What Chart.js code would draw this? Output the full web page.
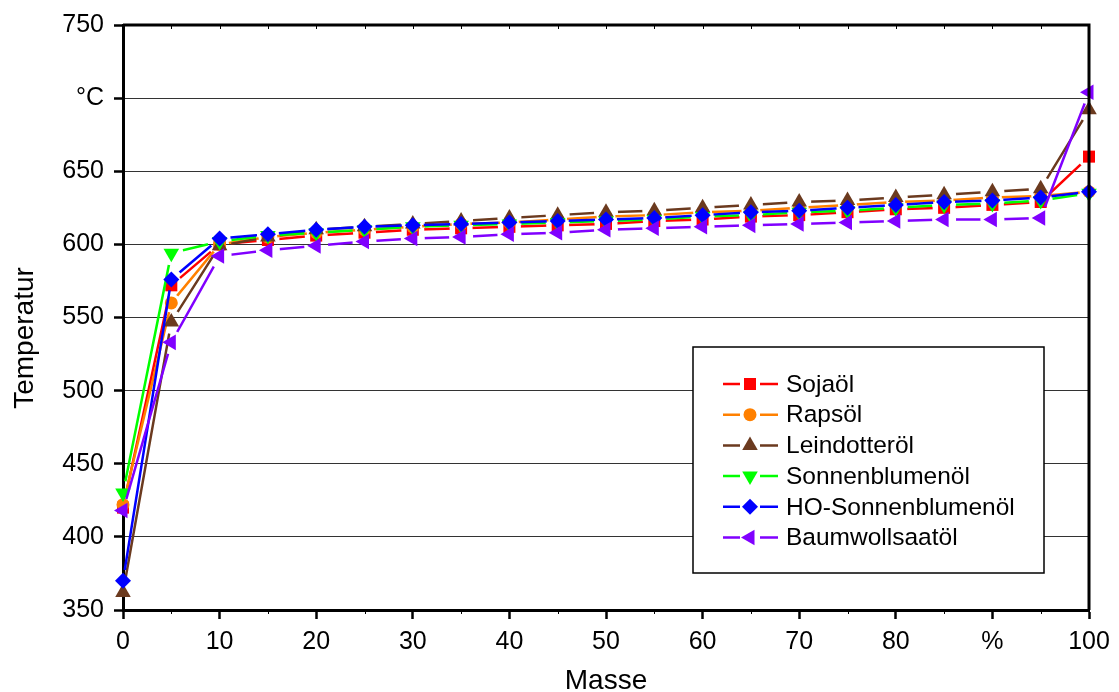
<!DOCTYPE html>
<html>
<head>
<meta charset="utf-8">
<script src="https://cdn.jsdelivr.net/npm/chart.js@4.4.1/dist/chart.umd.min.js"></script>
<style>
  html, body { margin: 0; padding: 0; background: #fff; }
  #wrap { width: 1119px; height: 692px; }
</style>
</head>
<body>
<div id="wrap"><canvas id="chart" width="1119" height="692"></canvas></div>
<script>
// Masse in %
var masse = [0, 5, 10, 15, 20, 25, 30, 35, 40, 45, 50, 55, 60, 65, 70, 75, 80, 85, 90, 95, 100];

// Temperatur in °C
var sojaoel          = [420, 572, 600, 603, 606, 608, 610, 611, 612, 613, 614, 616, 617, 619, 620, 622, 624, 625, 627, 629, 660];
var rapsoel          = [422, 560, 600, 605, 608, 610, 612, 614, 615, 617, 619, 620, 622, 623, 625, 627, 629, 630, 632, 633, 636];
var leindotteroel    = [362, 547, 599, 605, 610, 612, 614, 616, 618, 620, 622, 623, 625, 627, 629, 630, 632, 634, 636, 638, 692];
var sonnenblumenoel  = [430, 594, 602, 606, 608, 610, 612, 613, 614, 615, 616, 617, 619, 620, 622, 623, 625, 627, 628, 630, 635];
var hoSonnenblumen   = [370, 576, 604, 607, 610, 612, 613, 614, 615, 616, 617, 618, 620, 622, 623, 625, 627, 629, 630, 632, 636];
var baumwollsaatoel  = [418, 533, 592, 596, 599, 602, 604, 605, 607, 608, 610, 611, 612, 613, 614, 615, 616, 617, 617, 618, 704];

var xTickLabels = {90: '%'};
var yTickLabels = {700: '°C'};

var series = [
  {label: 'Sojaöl',            data: sojaoel,         color: '#ff0000', style: 'rect',     rot: 0,   r: 8.5},
  {label: 'Rapsöl',            data: rapsoel,         color: '#ff8000', style: 'circle',   rot: 0,   r: 6.5},
  {label: 'Leindotteröl',      data: leindotteroel,   color: '#6b3a1f', style: 'triangle', rot: 0,   r: 9},
  {label: 'Sonnenblumenöl',    data: sonnenblumenoel, color: '#00ff00', style: 'triangle', rot: 180, r: 9},
  {label: 'HO-Sonnenblumenöl', data: hoSonnenblumen,  color: '#0000ff', style: 'rectRot',  rot: 0,   r: 8},
  {label: 'Baumwollsaatöl',    data: baumwollsaatoel, color: '#8000ff', style: 'triangle', rot: 270, r: 9}
];

var FONT = '"Liberation Sans", Arial, sans-serif';

function drawMarker(ctx, s, x, y) {
  var r = s.r;
  ctx.save();
  ctx.translate(x, y);
  ctx.rotate(s.rot * Math.PI / 180);
  ctx.fillStyle = s.color;
  ctx.beginPath();
  if (s.style === 'rect') {
    var h = r * Math.SQRT1_2;
    ctx.rect(-h, -h, 2 * h, 2 * h);
  } else if (s.style === 'circle') {
    ctx.arc(0, 0, r, 0, Math.PI * 2);
  } else if (s.style === 'rectRot') {
    ctx.moveTo(-r, 0); ctx.lineTo(0, -r); ctx.lineTo(r, 0); ctx.lineTo(0, r);
  } else {
    ctx.moveTo(0, -r);
    ctx.lineTo(r * 0.866, r * 0.5);
    ctx.lineTo(-r * 0.866, r * 0.5);
  }
  ctx.closePath();
  ctx.fill();
  ctx.restore();
}

// lines stop short of their own markers
var gapPlugin = {
  id: 'gaps',
  beforeDatasetDraw: function(chart, args) {
    var ctx = chart.ctx;
    var hole = args.meta.controller.getDataset().holeRadius;
    ctx.save();
    ctx.beginPath();
    ctx.rect(0, 0, chart.width, chart.height);
    args.meta.data.forEach(function(p) {
      ctx.moveTo(p.x + hole, p.y);
      ctx.arc(p.x, p.y, hole, 0, Math.PI * 2, true);
    });
    ctx.clip('evenodd');
  },
  afterDatasetDraw: function(chart, args) {
    chart.ctx.restore();
    var area = {left: 0, top: 0, right: chart.width, bottom: chart.height};
    args.meta.data.forEach(function(p) { p.draw(chart.ctx, area); });
  }
};

var framePlugin = {
  id: 'frame',
  afterDraw: function(chart) {
    var ctx = chart.ctx;
    var a = chart.chartArea;
    var xs = chart.scales.x;
    ctx.save();
    ctx.strokeStyle = '#000';
    // top and right border
    ctx.lineWidth = 3;
    ctx.beginPath();
    ctx.moveTo(a.left, a.top);
    ctx.lineTo(a.right, a.top);
    ctx.lineTo(a.right, a.bottom);
    ctx.stroke();
    // minor ticks
    ctx.lineWidth = 1;
    ctx.beginPath();
    for (var v = 5; v < 100; v += 10) {
      var px = Math.round(xs.getPixelForValue(v)) + 0.5;
      ctx.moveTo(px, a.bottom); ctx.lineTo(px, a.bottom + 4);
      ctx.moveTo(px, a.top); ctx.lineTo(px, a.top + 4);
    }
    for (var w = 10; w < 100; w += 10) {
      var qx = Math.round(xs.getPixelForValue(w)) + 0.5;
      ctx.moveTo(qx, a.top); ctx.lineTo(qx, a.top + 4);
    }
    ctx.stroke();

    // y axis title
    ctx.fillStyle = '#000';
    ctx.font = '28px ' + FONT;
    ctx.textAlign = 'center';
    ctx.textBaseline = 'middle';
    ctx.save();
    ctx.translate(25, 338);
    ctx.rotate(-Math.PI / 2);
    ctx.fillText('Temperatur', 0, 0);
    ctx.restore();

    // legend
    var bx = a.left + 570, by = a.top + 322, bw = 351, bh = 226;
    ctx.fillStyle = '#fff';
    ctx.fillRect(bx, by, bw, bh);
    ctx.lineWidth = 1.5;
    ctx.strokeRect(bx, by, bw, bh);
    ctx.font = '24.5px ' + FONT;
    ctx.textBaseline = 'middle';
    ctx.textAlign = 'left';
    series.forEach(function(s, i) {
      var y = by + 37 + i * 30.7;
      var cx = bx + 57;
      ctx.strokeStyle = s.color;
      ctx.lineWidth = 2.5;
      ctx.beginPath();
      ctx.moveTo(bx + 30, y); ctx.lineTo(cx - 10, y);
      ctx.moveTo(cx + 10, y); ctx.lineTo(bx + 85, y);
      ctx.stroke();
      drawMarker(ctx, s, cx, y);
      ctx.fillStyle = '#000';
      ctx.fillText(s.label, bx + 93, y + 1);
    });
    ctx.restore();
  }
};

var datasets = series.map(function(s, i) {
  return {
    label: s.label,
    data: masse.map(function(m, k) { return {x: m, y: s.data[k]}; }),
    borderColor: s.color,
    backgroundColor: s.color,
    borderWidth: 2.5,
    pointStyle: s.style,
    pointRotation: s.rot,
    pointRadius: s.r,
    pointBorderWidth: 0,
    pointBackgroundColor: s.color,
    holeRadius: s.r + 3,
    tension: 0,
    fill: false,
    clip: false,
    order: series.length - 1 - i
  };
});

new Chart(document.getElementById('chart').getContext('2d'), {
  type: 'line',
  data: {datasets: datasets},
  plugins: [gapPlugin, framePlugin],
  options: {
    responsive: false,
    animation: false,
    layout: {padding: {top: 24, right: 30, left: 0, bottom: 0}},
    plugins: {legend: {display: false}, tooltip: {enabled: false}},
    scales: {
      x: {
        type: 'linear',
        min: 0, max: 100,
        afterFit: function(scale) { scale.height = 82; },
        ticks: {
          stepSize: 10,
          color: '#000',
          padding: 8,
          maxRotation: 0,
          font: {family: FONT, size: 25},
          callback: function(v) { return xTickLabels[v] !== undefined ? xTickLabels[v] : v; }
        },
        grid: {drawOnChartArea: false, tickLength: 9, tickWidth: 2.5, tickColor: '#000'},
        border: {color: '#000', width: 3},
        title: {display: true, text: 'Masse', color: '#000', padding: 0,
                font: {family: FONT, size: 28, lineHeight: 0.8}}
      },
      y: {
        min: 350, max: 750,
        afterFit: function(scale) { scale.width = 123; },
        ticks: {
          stepSize: 50,
          color: '#000',
          padding: 10,
          font: {family: FONT, size: 25},
          callback: function(v) { return yTickLabels[v] !== undefined ? yTickLabels[v] : v; }
        },
        grid: {color: '#333', lineWidth: 1, tickLength: 9, tickWidth: 2.5, tickColor: '#000'},
        border: {color: '#000', width: 3}
      }
    }
  }
});
</script>
</body>
</html>
